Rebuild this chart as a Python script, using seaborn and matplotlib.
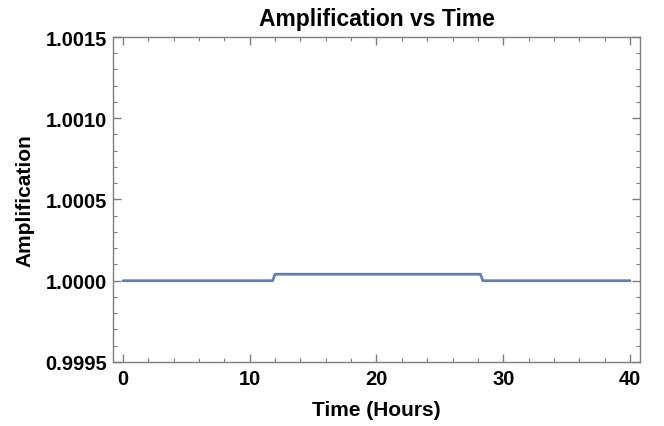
import numpy as np
import pandas as pd
import matplotlib
matplotlib.use("Agg")
import matplotlib.pyplot as plt
import seaborn as sns
from matplotlib.ticker import MultipleLocator, FormatStrFormatter

# values
time_hours = [0, 11.8, 12.0, 28.2, 28.4, 40]
amplification = [1.0, 1.0, 1.00004, 1.00004, 1.0, 1.0]

df = pd.DataFrame({"Time (Hours)": time_hours, "Amplification": amplification})

sns.set_style("ticks")
plt.rcParams['font.family'] = ['Liberation Sans', 'DejaVu Sans']
plt.rcParams['font.weight'] = 'bold'

fig = plt.figure(figsize=(6.64, 4.27), dpi=100)
ax = fig.add_axes([0.170, 0.150, 0.794, 0.761])

sns.lineplot(data=df, x="Time (Hours)", y="Amplification", ax=ax,
             color="#5E81B5", linewidth=2)

ax.set_xlim(-0.8, 40.8)
ax.set_ylim(0.9995, 1.0015)
ax.xaxis.set_major_locator(MultipleLocator(10))
ax.xaxis.set_minor_locator(MultipleLocator(2))
ax.yaxis.set_major_locator(MultipleLocator(0.0005))
ax.yaxis.set_minor_locator(MultipleLocator(0.0001))
ax.yaxis.set_major_formatter(FormatStrFormatter('%.4f'))

frame = "#7f7f7f"
for s in ax.spines.values():
    s.set_color(frame)
    s.set_linewidth(1)
ax.tick_params(which='both', direction='in', top=True, right=True,
               color=frame, labelsize=14.5, labelcolor='black')
ax.tick_params(axis='x', pad=5)
ax.tick_params(axis='y', pad=4)
ax.tick_params(which='major', length=6, width=1)
ax.tick_params(which='minor', length=3, width=0.8)
for lab in ax.get_xticklabels() + ax.get_yticklabels():
    lab.set_fontweight('bold')

ax.set_xlabel("Time (Hours)", fontsize=15, fontweight='bold', labelpad=9, color='black')
ax.set_ylabel("Amplification", fontsize=15, fontweight='bold', labelpad=8, color='black')
ax.set_title("Amplification vs Time", fontsize=16.5, fontweight='bold', pad=9, color='black')

fig.savefig("out.png", dpi=100)
